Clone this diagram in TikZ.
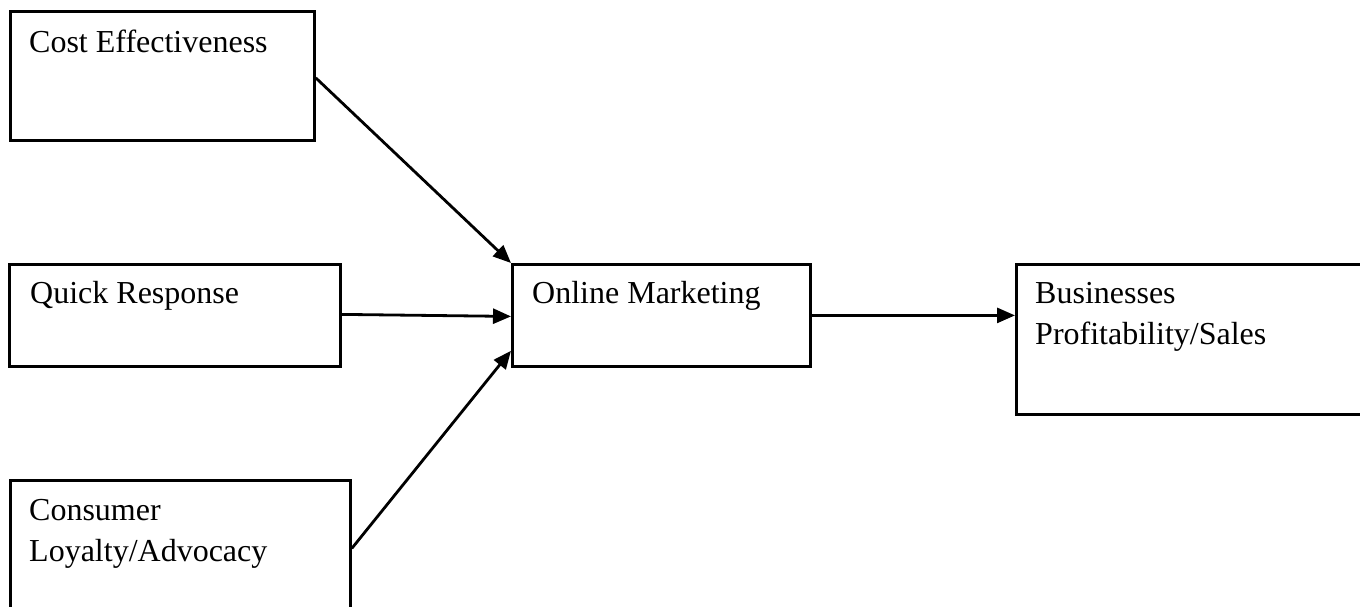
\documentclass[tikz,border=0pt]{standalone}
\usepackage{fontspec}
\setmainfont{Liberation Serif}
\usetikzlibrary{arrows.meta}
\tikzset{
  box/.style={draw=black, line width=2.8pt, inner sep=0pt, anchor=north west},
  lbl/.style={anchor=base west, inner sep=0pt, align=left, font=\fontsize{32}{41}\selectfont},
  conn/.style={line width=2.8pt, -{Triangle[length=18pt,width=15pt]}, shorten >=0pt}
}
\begin{document}
\begin{tikzpicture}[x=1pt,y=-1pt]
\useasboundingbox (0,0) rectangle (1360,606);
\fill[white] (0,0) rectangle (1360,606);
% boxes
\node[box, minimum width=304pt, minimum height=129pt] (ce) at (9,10) {};
\node[box, minimum width=331pt, minimum height=102pt] (qr) at (8,263) {};
\node[box, minimum width=340pt, minimum height=136pt] (cl) at (9,479) {};
\node[box, minimum width=298pt, minimum height=102pt] (om) at (511,263) {};
\node[box, minimum width=365pt, minimum height=150pt] (bp) at (1015,263) {};
% labels (base anchor = baseline of the last line)
\node[lbl] (tce) at ([xshift=20pt,yshift=-42pt]ce.north west) {Cost Effectiveness};
\node[lbl] (tqr) at ([xshift=22pt,yshift=-40pt]qr.north west) {Quick Response};
\node[lbl] (tcl) at ([xshift=20pt,yshift=-82pt]cl.north west) {Consumer\\Loyalty/Advocacy};
\node[lbl] (tom) at ([xshift=21pt,yshift=-40pt]om.north west) {Online Marketing};
\node[lbl] (tbp) at ([xshift=20pt,yshift=-81pt]bp.north west) {Businesses\\Profitability/Sales};
% connectors
\draw[conn] ([yshift=-2pt]ce.east) -- (om.north west);
\draw[conn] ([yshift=1pt]qr.east) -- ([yshift=-1pt]om.west);
\draw[conn] (cl.east) -- ([yshift=17pt]om.south west);
\draw[conn] (om.east) -- (bp.west |- om.east);
\end{tikzpicture}
\end{document}
